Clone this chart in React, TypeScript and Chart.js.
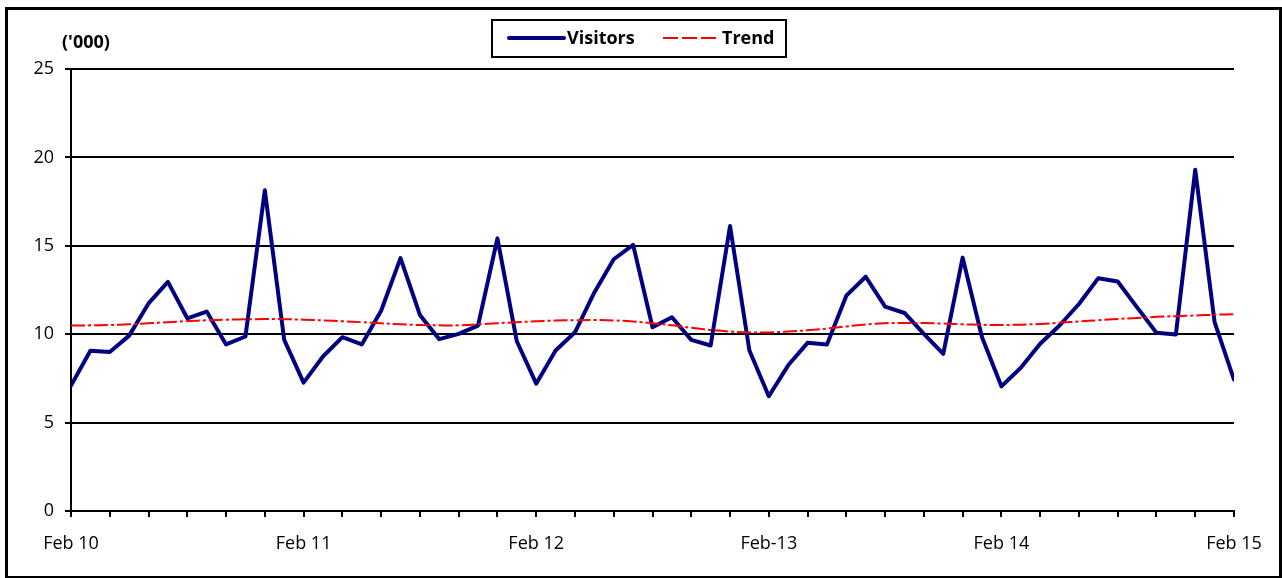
import React, { useEffect, useRef } from "react";
import { Chart, registerables } from "chart.js";

Chart.register(...registerables);

const tickLabels = ["Feb 10", "Feb 11", "Feb 12", "Feb-13", "Feb 14", "Feb 15"];

const visitors = [
  7.1, 9.06, 8.99, 9.92, 11.74, 12.96, 10.9, 11.28, 9.42, 9.87, 18.14, 9.68,
  7.26, 8.74, 9.83, 9.42, 11.33, 14.3, 11.09, 9.72, 10.02, 10.49, 15.42, 9.6,
  7.2, 9.08, 10.11, 12.36, 14.24, 15.05, 10.39, 10.96, 9.68, 9.36, 16.12, 9.08,
  6.49, 8.24, 9.51, 9.42, 12.18, 13.25, 11.56, 11.2, 10.02, 8.89, 14.33, 9.83,
  7.05, 8.1, 9.46, 10.49, 11.71, 13.17, 12.98, 11.52, 10.08, 9.98, 19.3, 10.68,
  7.43,
];

const trend = [
  10.49, 10.5, 10.52, 10.56, 10.62, 10.68, 10.74, 10.79, 10.82, 10.84, 10.86, 10.85,
  10.82, 10.78, 10.73, 10.68, 10.62, 10.56, 10.52, 10.5, 10.5, 10.55, 10.62, 10.68,
  10.73, 10.77, 10.79, 10.8, 10.78, 10.72, 10.62, 10.5, 10.36, 10.24, 10.15, 10.1,
  10.1, 10.15, 10.22, 10.32, 10.44, 10.55, 10.62, 10.64, 10.63, 10.6, 10.56, 10.53,
  10.52, 10.54, 10.58, 10.65, 10.72, 10.79, 10.86, 10.92, 10.98, 11.02, 11.06, 11.1,
  11.13,
];

const FONT = "'Open Sans', sans-serif";

export default function App() {
  const ref = useRef<HTMLCanvasElement | null>(null);

  useEffect(() => {
    if (!ref.current) return;
    const chart = new Chart(ref.current, {
      type: "line",
      data: {
        datasets: [
          {
            label: "Visitors",
            data: visitors.map((v, i) => ({ x: i, y: v })),
            borderColor: "#000080",
            borderWidth: 4,
            borderJoinStyle: "round",
            borderCapStyle: "round",
            pointRadius: 0,
            tension: 0,
            order: 2,
          },
          {
            label: "Trend",
            data: trend.map((v, i) => ({ x: i, y: v })),
            borderColor: "#ff0000",
            borderWidth: 2,
            borderDash: [14, 3, 3, 3],
            pointRadius: 0,
            tension: 0.4,
            order: 1,
          },
        ],
      },
      options: {
        animation: false,
        responsive: false,
        layout: { padding: { left: 0, top: 69, right: 48, bottom: 22 } },
        plugins: { legend: { display: false }, tooltip: { enabled: false } },
        scales: {
          x: {
            type: "linear",
            min: 0,
            max: visitors.length - 1,
            afterFit: (s: any) => {
              s.height = 45;
            },
            border: { display: true, color: "#000", width: 2 },
            grid: {
              drawOnChartArea: false,
              drawTicks: true,
              tickLength: 6,
              color: "#000",
              lineWidth: 2,
            },
            ticks: {
              stepSize: 2,
              autoSkip: false,
              maxRotation: 0,
              padding: 16,
              color: "#000",
              font: { family: FONT, size: 18 },
              callback: (v: any) => {
                const n = Number(v);
                return n % 12 === 0 ? tickLabels[n / 12] : "";
              },
            },
          },
          y: {
            min: 0,
            max: 25,
            afterFit: (s: any) => {
              s.width = 71;
            },
            border: { display: true, color: "#000", width: 2 },
            grid: {
              color: "#000",
              lineWidth: 2,
              drawTicks: true,
              tickLength: 6,
            },
            ticks: {
              stepSize: 5,
              padding: 11,
              color: "#000",
              font: { family: FONT, size: 18 },
            },
          },
        },
      },
    });
    return () => chart.destroy();
  }, []);

  const textStyle: React.CSSProperties = {
    fontFamily: FONT,
    fontWeight: 700,
    fontSize: 18,
    color: "#000",
    lineHeight: "20px",
  };

  return (
    <div
      style={{
        position: "fixed",
        left: 0,
        top: 0,
        width: 1282,
        height: 578,
        background: "#fff",
        overflow: "hidden",
      }}
    >
      <canvas
        ref={ref}
        width={1282}
        height={578}
        style={{ position: "absolute", left: 0, top: 0, width: 1282, height: 578 }}
      />
      <div
        style={{
          position: "absolute",
          left: 5,
          top: 7,
          width: 1277,
          height: 572,
          border: "3.5px solid #000",
          boxSizing: "border-box",
          pointerEvents: "none",
        }}
      />
      <div style={{ ...textStyle, position: "absolute", left: 62, top: 31 }}>('000)</div>
      <div
        style={{
          position: "absolute",
          left: 491,
          top: 19,
          width: 296,
          height: 39,
          border: "2px solid #000",
          boxSizing: "border-box",
          background: "#fff",
        }}
      >
        <svg width={60} height={10} style={{ position: "absolute", left: 14, top: 12 }}>
          <line x1={2} y1={5} x2={57} y2={5} stroke="#000080" strokeWidth={4} strokeLinecap="round" />
        </svg>
        <div style={{ ...textStyle, position: "absolute", left: 74, top: 6 }}>Visitors</div>
        <svg width={58} height={10} style={{ position: "absolute", left: 170, top: 12 }}>
          <line x1={0} y1={5} x2={56} y2={5} stroke="#ff0000" strokeWidth={2} strokeDasharray="15 4" />
        </svg>
        <div style={{ ...textStyle, position: "absolute", left: 229, top: 6 }}>Trend</div>
      </div>
    </div>
  );
}
